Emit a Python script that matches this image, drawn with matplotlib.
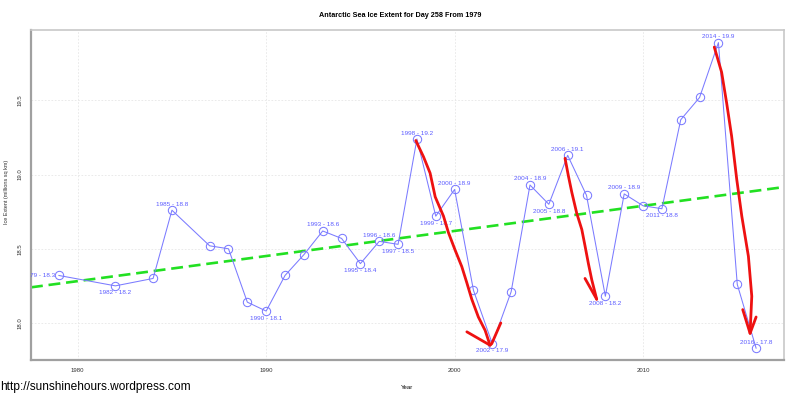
import matplotlib

matplotlib.use("Agg")
import matplotlib.pyplot as plt
import numpy as np

plt.rcParams["font.family"] = ["Liberation Sans", "DejaVu Sans"]

# Day-258 extent
years = [1979, 1982, 1984, 1985, 1987, 1988, 1989, 1990, 1991, 1992, 1993, 1994,
         1995, 1996, 1997, 1998, 1999, 2000, 2001, 2002, 2003, 2004, 2005, 2006,
         2007, 2008, 2009, 2010, 2011, 2012, 2013, 2014, 2015, 2016]
extent = [18.32, 18.25, 18.30, 18.76, 18.52, 18.50, 18.14, 18.08, 18.32, 18.46,
          18.62, 18.57, 18.40, 18.55, 18.53, 19.24, 18.72, 18.90, 18.22, 17.86,
          18.21, 18.93, 18.80, 19.13, 18.86, 18.18, 18.87, 18.79, 18.77, 19.37,
          19.52, 19.89, 18.26, 17.83]

# labelled years and where the label sits
label_years = [1979, 1982, 1985, 1990, 1993, 1995, 1996, 1997, 1998, 1999, 2000,
               2002, 2004, 2005, 2006, 2008, 2009, 2011, 2014, 2016]
label_pos = ["left", "below", "above", "below", "above", "below", "above", "below",
             "above", "below", "above", "below", "above", "below", "above", "below",
             "above", "below", "above", "above"]

# hand-drawn red arrows (year, extent)
arrow1_x = [1997.94, 1998.35, 1998.70, 1998.97, 1999.41, 1999.67, 2000.03, 2000.38,
            2000.65, 2000.91, 2001.26, 2001.62, 2001.88]
arrow1_y = [19.23, 19.12, 19.01, 18.85, 18.72, 18.61, 18.49, 18.38, 18.27, 18.16,
            18.04, 17.95, 17.85]
arrow1_head_x = [2000.65, 2001.88, 2001.97, 2002.45]
arrow1_head_y = [17.94, 17.85, 17.86, 18.00]

arrow2_x = [2005.86, 2006.04, 2006.22, 2006.48, 2006.75, 2006.92, 2007.10, 2007.28,
            2007.54]
arrow2_y = [19.11, 18.99, 18.88, 18.74, 18.63, 18.52, 18.40, 18.29, 18.16]
arrow2_head_x = [2006.92, 2007.54]
arrow2_head_y = [18.30, 18.16]

arrow3_x = [2013.78, 2014.17, 2014.44, 2014.70, 2014.97, 2015.24, 2015.59, 2015.77,
            2015.68]
arrow3_y = [19.86, 19.69, 19.48, 19.26, 18.97, 18.72, 18.45, 18.18, 17.93]
arrow3_head_x = [2015.29, 2015.68, 2016.00]
arrow3_head_y = [18.09, 17.93, 18.04]

blue = "#7b7bff"
label_blue = "#5b5bff"
grid_col = "#e6e6e6"

fig = plt.figure(figsize=(8.0, 3.99), dpi=100)
ax = fig.add_axes([0.03875, 0.0977, 0.94125, 0.8271])

ax.set_xlim(1977.52, 2017.48)
ax.set_ylim(17.75, 19.975)
ax.set_xticks([1980, 1990, 2000, 2010])
ax.set_yticks([18.0, 18.5, 19.0, 19.5])
ax.set_yticklabels(["18.0", "18.5", "19.0", "19.5"], rotation=90, va="center")
ax.tick_params(length=0, labelsize=4.3, colors="#333333", pad=6)
ax.grid(color=grid_col, linestyle=(0, (2, 2)), linewidth=0.6)
ax.set_axisbelow(True)
for side in ["left", "bottom"]:
    ax.spines[side].set_color("#a0a0a0")
    ax.spines[side].set_linewidth(1.6)
for side in ["top", "right"]:
    ax.spines[side].set_color("#c8c8c8")
    ax.spines[side].set_linewidth(1.2)

# trend line (least squares, as abline(lm) would draw it)
slope, icpt = np.polyfit(years, extent, 1)
xs = np.array(ax.get_xlim())
ax.plot(xs, icpt + slope * xs, color="#22e022", lw=1.9, ls=(0, (4.5, 2.2)), zorder=2)

ax.plot(years, extent, color=blue, lw=0.75, marker="o", ms=6, mfc="none",
        mec=blue, mew=0.75, zorder=3)

for yr, pos in zip(label_years, label_pos):
    val = extent[years.index(yr)]
    txt = f"{yr} - {val:.1f}"
    if pos == "above":
        off, ha, va = (0, 6), "center", "center"
    elif pos == "below":
        off, ha, va = (0, -7), "center", "center"
    else:
        off, ha, va = (-4, 0), "right", "center"
    ax.annotate(txt, (yr, val), xytext=off, textcoords="offset pixels", ha=ha, va=va,
                fontsize=4.6, color=label_blue, zorder=4, annotation_clip=False,
                clip_on=True)

for xa, ya in [(arrow1_x, arrow1_y), (arrow1_head_x, arrow1_head_y),
               (arrow2_x, arrow2_y), (arrow2_head_x, arrow2_head_y),
               (arrow3_x, arrow3_y), (arrow3_head_x, arrow3_head_y)]:
    ax.plot(xa, ya, color="#ee1111", lw=2.0, solid_capstyle="round",
            solid_joinstyle="round", zorder=5)

fig.text(0.5, 0.96, "Antarctic Sea Ice Extent for Day 258 From 1979", ha="center",
         va="center", fontsize=5.2, fontweight="bold")
fig.text(0.509, 0.029, "Year", ha="center", va="center", fontsize=4.3)
fig.text(0.008, 0.52, "Ice Extent (millions sq km)", ha="center", va="center",
         rotation=90, fontsize=4.0, color="#333333")
fig.text(0.0, 0.031, "http://sunshinehours.wordpress.com", ha="left", va="center",
         fontsize=8.6)

fig.savefig("out.png", dpi=100)
